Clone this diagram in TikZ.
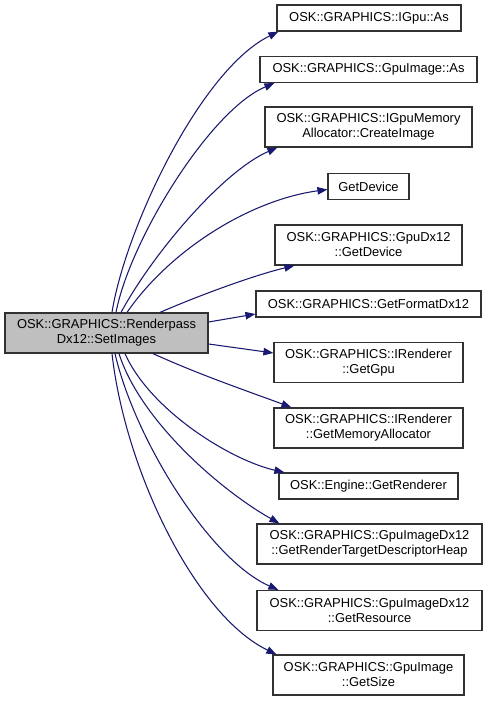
\documentclass[tikz,border=0pt]{standalone}
\usepackage{fontspec}
\setmainfont{Liberation Sans}
\usetikzlibrary{arrows.meta}
\definecolor{edgeblue}{RGB}{25,25,112}
\definecolor{boxline}{RGB}{50,50,50}
\definecolor{mainfill}{RGB}{191,191,191}
\newcommand{\pxu}{0.75pt}
\begin{document}
\begin{tikzpicture}[x=0.75pt,y=-0.75pt,
  box/.style={draw=boxline,line width=0.9pt,fill=white,inner sep=0pt,align=center,
    font=\fontsize{9.7}{11.25}\selectfont},
  one/.style={minimum height=26*\pxu},
  two/.style={minimum height=40*\pxu},
  edge/.style={draw=edgeblue,line width=0.8pt,
    -{Triangle[length=10*\pxu,width=7.5*\pxu]}}]
\useasboundingbox (0,0) rectangle (487,702);
\node[box,two,fill=mainfill,minimum width=203*\pxu] (n0) at (106.5,333) {OSK::GRAPHICS::Renderpass\\Dx12::SetImages};
\node[box,one,minimum width=184*\pxu] (n1) at (369,18) {OSK::GRAPHICS::IGpu::As};
\node[box,one,minimum width=217*\pxu] (n2) at (368.5,69.5) {OSK::GRAPHICS::GpuImage::As};
\node[box,two,minimum width=207*\pxu] (n3) at (368.5,127) {OSK::GRAPHICS::IGpuMemory\\Allocator::CreateImage};
\node[box,one,minimum width=81*\pxu] (n4) at (368.5,186.5) {GetDevice};
\node[box,two,minimum width=187*\pxu] (n5) at (368.5,245) {OSK::GRAPHICS::GpuDx12\\::GetDevice};
\node[box,one,minimum width=225*\pxu] (n6) at (368.5,304) {OSK::GRAPHICS::GetFormatDx12};
\node[box,two,minimum width=189*\pxu] (n7) at (368.5,362.5) {OSK::GRAPHICS::IRenderer\\::GetGpu};
\node[box,two,minimum width=189*\pxu] (n8) at (368.5,428) {OSK::GRAPHICS::IRenderer\\::GetMemoryAllocator};
\node[box,one,minimum width=179*\pxu] (n9) at (368.5,486) {OSK::Engine::GetRenderer};
\node[box,two,minimum width=225*\pxu] (n10) at (369.5,544) {OSK::GRAPHICS::GpuImageDx12\\::GetRenderTargetDescriptorHeap};
\node[box,two,minimum width=225*\pxu] (n11) at (369.5,610.5) {OSK::GRAPHICS::GpuImageDx12\\::GetResource};
\node[box,two,minimum width=191*\pxu] (n12) at (368.5,675) {OSK::GRAPHICS::GpuImage\\::GetSize};
% start points
\coordinate (s1) at ([shift={(5.5,0)}]n0.north);
\coordinate (s2) at ([shift={(9.5,0)}]n0.north);
\coordinate (s3) at ([shift={(14.5,0)}]n0.north);
\coordinate (s4) at ([shift={(20.5,0)}]n0.north);
\coordinate (s5) at ([shift={(53.5,0)}]n0.north);
\coordinate (s6) at ([shift={(0,-11)}]n0.east);
\coordinate (s7) at ([shift={(0,11)}]n0.east);
\coordinate (s8) at ([shift={(46.5,0)}]n0.south);
\coordinate (s9) at ([shift={(18.5,0)}]n0.south);
\coordinate (s10) at ([shift={(12.5,0)}]n0.south);
\coordinate (s11) at ([shift={(8.5,0)}]n0.south);
\coordinate (s12) at ([shift={(5.5,0)}]n0.south);
% end points
\coordinate (e1) at ([shift={(2,0)}]n1.south west);
\coordinate (e2) at ([shift={(15,0)}]n2.south west);
\coordinate (e3) at ([shift={(13,0)}]n3.south west);
\coordinate (e4) at ([shift={(0,3)}]n4.west);
\coordinate (e5) at ([shift={(20,0)}]n5.south west);
\coordinate (e6) at ([shift={(0,10)}]n6.west);
\coordinate (e7) at ([shift={(0,-9.5)}]n7.west);
\coordinate (e8) at ([shift={(18,0)}]n8.north west);
\coordinate (e9) at ([shift={(6,0)}]n9.north west);
\coordinate (e10) at ([shift={(23,0)}]n10.north west);
\coordinate (e11) at ([shift={(22,0)}]n11.north west);
\coordinate (e12) at ([shift={(4,0)}]n12.north west);
% edges
\draw[edge] (s1) .. controls (125,230) and (200,70) .. (e1);
\draw[edge] (s2) .. controls (130,240) and (210,110) .. (e2);
\draw[edge] (s3) .. controls (155,250) and (225,170) .. (e3);
\draw[edge] (s4) .. controls (170,250) and (250,200) .. (e4);
\draw[edge] (s5) .. controls (200,295) and (255,275) .. (e5);
\draw[edge] (s6) -- (e6);
\draw[edge] (s7) -- (e7);
\draw[edge] (s8) .. controls (200,375) and (250,392) .. (e8);
\draw[edge] (s9) .. controls (150,410) and (230,460) .. (e9);
\draw[edge] (s10) .. controls (140,420) and (220,490) .. (e10);
\draw[edge] (s11) .. controls (135,440) and (210,560) .. (e11);
\draw[edge] (s12) .. controls (125,470) and (195,615) .. (e12);
\end{tikzpicture}
\end{document}
